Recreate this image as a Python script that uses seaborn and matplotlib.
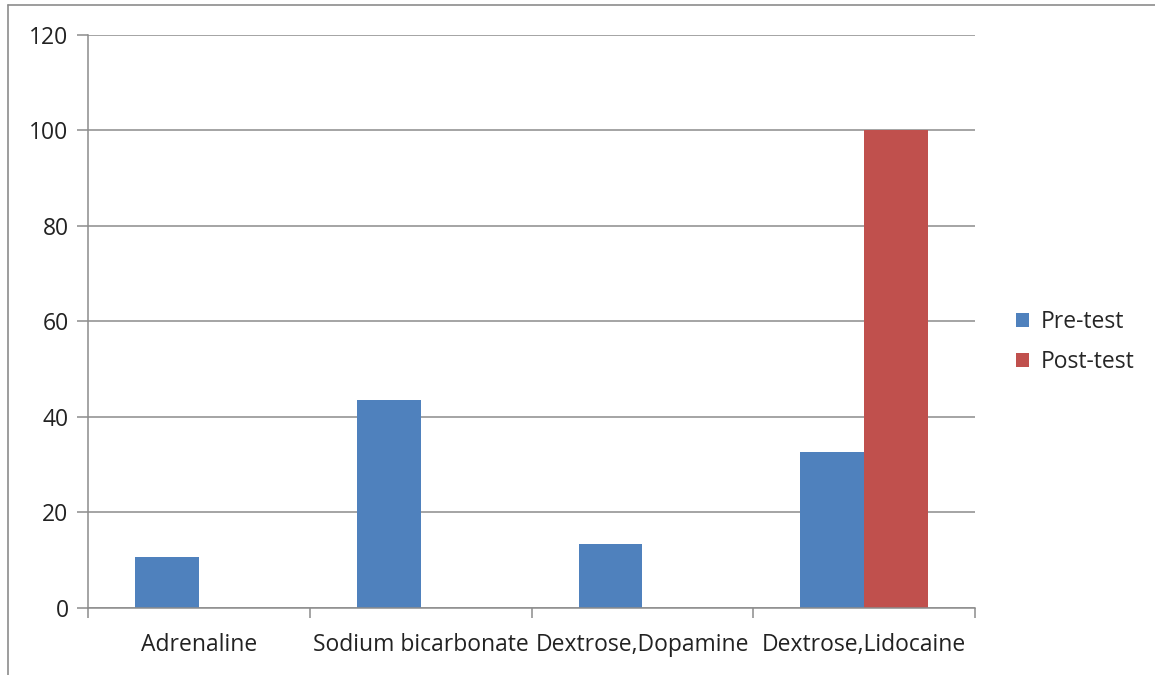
import matplotlib
matplotlib.use("Agg")
import matplotlib.pyplot as plt
import seaborn as sns
import pandas as pd
from matplotlib.lines import Line2D
from matplotlib.patches import Patch

categories = ["Adrenaline", "Sodium bicarbonate", "Dextrose,Dopamine", "Dextrose,Lidocaine"]
pre_test = [10.7, 43.5, 13.3, 32.6]
post_test = [0, 0, 0, 100]
series = ["Pre-test", "Post-test"]
colors = ["#4F81BD", "#C0504D"]
yticks = [0, 20, 40, 60, 80, 100, 120]

df = pd.DataFrame({
    "Category": categories * 2,
    "Value": pre_test + post_test,
    "Series": [series[0]] * 4 + [series[1]] * 4,
})

sns.set_theme(style="white")
plt.rcParams['font.family'] = ['Open Sans', 'DejaVu Sans']

FS = 16.5
fig = plt.figure(figsize=(11.55, 6.75), dpi=100)
ax = fig.add_axes([88/1155, 1 - 607.7/675, (975-88)/1155, (607.7-35)/675])

sns.barplot(data=df, x="Category", y="Value", hue="Series", order=categories,
            hue_order=series, palette=colors, width=0.575, saturation=1,
            ax=ax, legend=False, linewidth=0)

ax.set_xlim(-0.5, 3.5)
ax.set_ylim(0, 120)
ax.set_yticks(yticks)
ax.set_yticklabels([str(v) for v in yticks], fontsize=FS, color="#222222")
ax.yaxis.grid(True, color="#8c8c8c", linewidth=1.1)
ax.set_axisbelow(True)
ax.set_xlabel("")
ax.set_ylabel("")
ax.set_xticks(range(4))
ax.set_xticklabels(categories, fontsize=FS, color="#222222")
ax.set_xticks([-0.5, 0.5, 1.5, 2.5, 3.5], minor=True)
ax.tick_params(axis="x", which="major", length=0, pad=18)
ax.tick_params(axis="x", which="minor", length=7, width=1.1, color="#8c8c8c", direction="out", bottom=True)
ax.tick_params(axis="y", length=8, width=1.1, color="#8c8c8c", direction="out", left=True, pad=6)
for s in ["top", "right"]:
    ax.spines[s].set_visible(False)
for s in ["left", "bottom"]:
    ax.spines[s].set_color("#8c8c8c")
    ax.spines[s].set_linewidth(1.1)

handles = [Patch(facecolor=c, edgecolor="none", label=l) for c, l in zip(colors, series)]
fig.legend(handles=handles, loc="center left", bbox_to_anchor=(1005/1155, 1 - 342/675),
           frameon=False, fontsize=FS, handlelength=0.55, handleheight=0.55,
           handletextpad=0.5, labelspacing=0.7, borderpad=0)

# outer chart border
fig.add_artist(Line2D([8/1155, 1], [1 - 5/675, 1 - 5/675], color="#8c8c8c", linewidth=1.2, transform=fig.transFigure))
fig.add_artist(Line2D([8/1155, 8/1155], [0, 1 - 5/675], color="#8c8c8c", linewidth=1.2, transform=fig.transFigure))

fig.savefig("out.png", dpi=100)
